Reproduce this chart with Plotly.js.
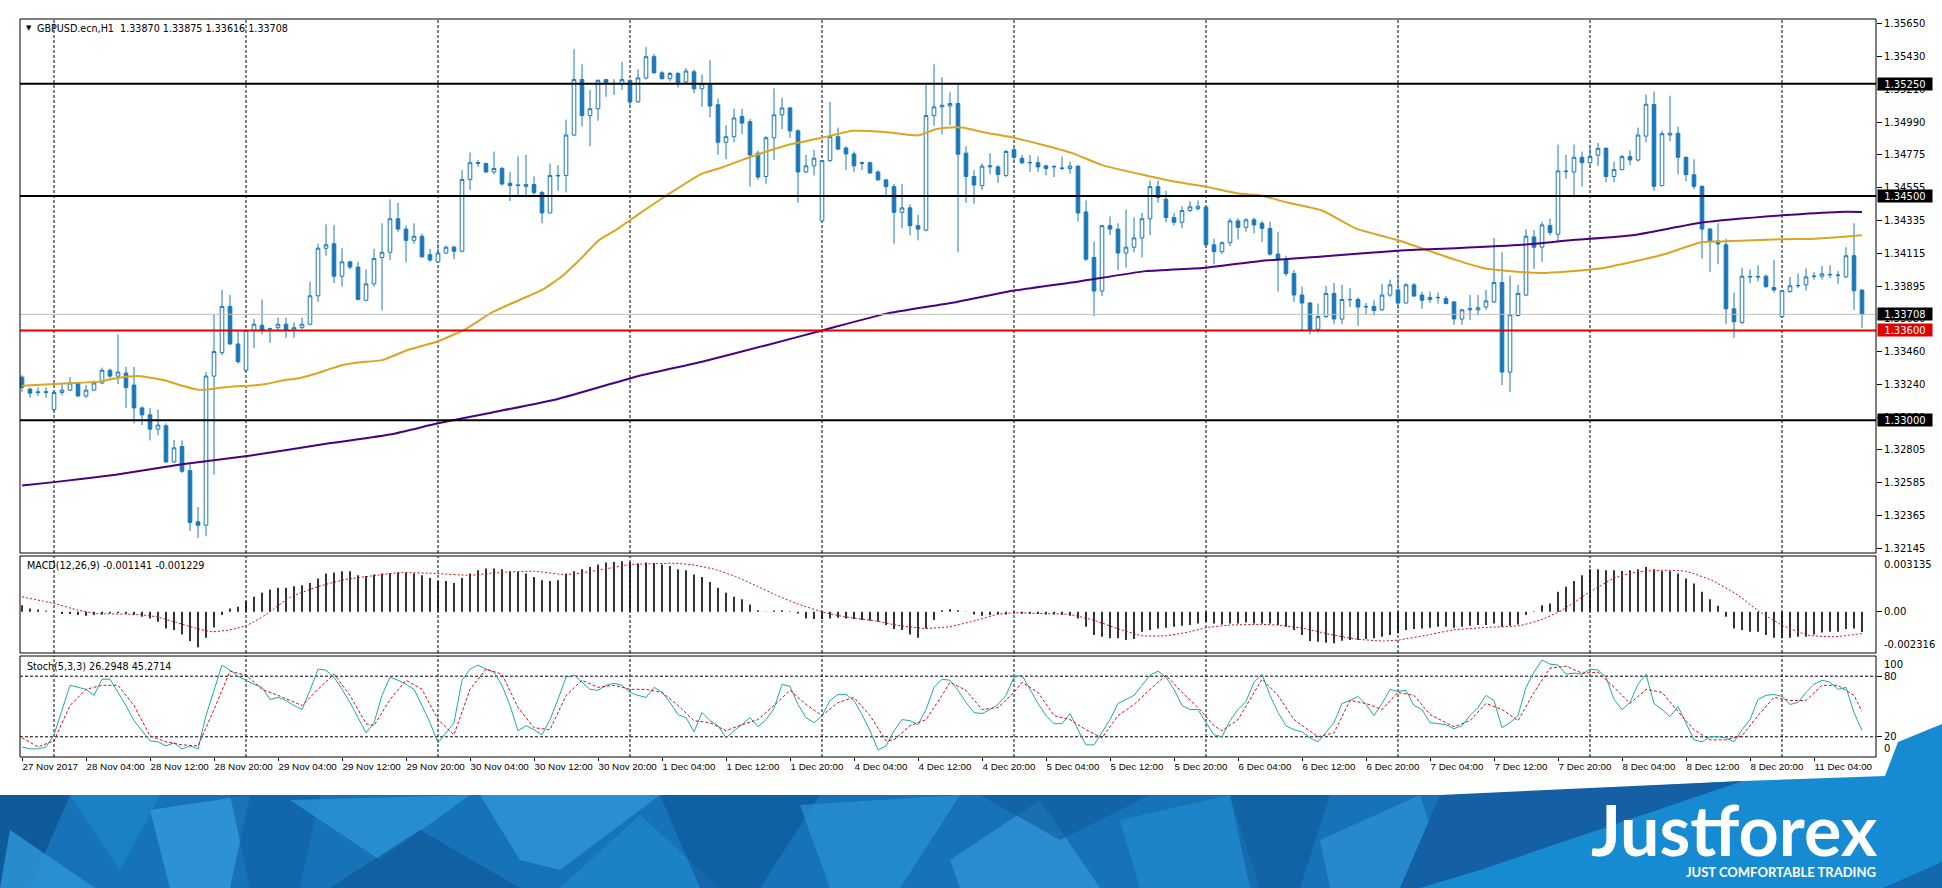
<!DOCTYPE html>
<html><head><meta charset="utf-8">
<script src="https://cdn.plot.ly/plotly-3.0.1.min.js"></script>
<style>html,body{margin:0;padding:0;background:#fff;overflow:hidden}#chart{width:1942px;height:888px}</style>
</head><body><div id="chart"></div>
<script>
// ---------------- DATA ----------------
const openP = [1.33288,1.33208,1.33190,1.33185,1.33071,1.33185,1.33201,1.33249,1.33162,1.33201,
1.33249,1.33334,1.33295,1.33315,1.33235,1.33082,1.33036,1.32940,1.32963,1.32721,
1.32824,1.32663,1.32321,1.32298,1.33295,1.33452,1.33761,1.33510,1.33334,1.33601,
1.33635,1.33610,1.33619,1.33642,1.33601,1.33619,1.33642,1.33832,1.34150,1.34180,
1.33963,1.34059,1.34024,1.33802,1.33912,1.34088,1.34123,1.34347,1.34278,1.34203,
1.34230,1.34107,1.34059,1.34118,1.34157,1.34130,1.34610,1.34717,1.34717,1.34660,
1.34683,1.34585,1.34569,1.34564,1.34576,1.34523,1.34386,1.34633,1.34637,1.34907,
1.35278,1.35037,1.35083,1.35278,1.35250,1.35250,1.35273,1.35129,1.35289,1.35431,
1.35323,1.35284,1.35319,1.35262,1.35330,1.35216,1.35250,1.35110,1.34859,1.34896,
1.35031,1.34996,1.34786,1.34630,1.34889,1.35042,1.35088,1.34935,1.34660,1.34701,
1.34333,1.34736,1.34896,1.34820,1.34781,1.34717,1.34722,1.34660,1.34607,1.34562,
1.34390,1.34420,1.34301,1.34271,1.35037,1.35095,1.35101,1.35118,1.34786,1.34630,
1.34569,1.34694,1.34694,1.34637,1.34809,1.34752,1.34724,1.34722,1.34701,1.34694,
1.34683,1.34683,1.34699,1.34393,1.34088,1.33864,1.34301,1.34278,1.34118,1.34157,
1.34219,1.34347,1.34562,1.34477,1.34356,1.34324,1.34402,1.34415,1.34425,1.34173,
1.34127,1.34187,1.34333,1.34290,1.34340,1.34317,1.34283,1.34111,1.34072,1.33981,
1.33837,1.33784,1.33608,1.33693,1.33848,1.33677,1.33805,1.33807,1.33757,1.33761,
1.33739,1.33837,1.33871,1.33784,1.33905,1.33837,1.33807,1.33819,1.33814,1.33791,
1.33677,1.33738,1.33738,1.33757,1.33791,1.33921,1.33322,1.33700,1.33837,1.34226,
1.34157,1.34301,1.34244,1.34662,1.34660,1.34758,1.34722,1.34772,1.34818,1.34630,
1.34676,1.34763,1.34740,1.34900,1.35111,1.34569,1.34907,1.34919,1.34758,1.34642,
1.34564,1.34278,1.34198,1.34173,1.33745,1.33654,1.33958,1.33958,1.33963,1.33887,
1.33693,1.33860,1.33899,1.33905,1.33961,1.33963,1.33972,1.33969,1.33958,1.34100,
1.33870];
const highP = [1.33300,1.33219,1.33219,1.33219,1.33196,1.33242,1.33288,1.33253,1.33235,1.33265,
1.33352,1.33345,1.33574,1.33357,1.33357,1.33093,1.33082,1.33071,1.32979,1.32869,
1.32865,1.32705,1.32419,1.33322,1.33711,1.33871,1.33837,1.33597,1.33605,1.33677,
1.33807,1.33619,1.33688,1.33688,1.33654,1.33688,1.33928,1.34180,1.34310,1.34306,
1.34150,1.34066,1.34059,1.34008,1.34146,1.34317,1.34477,1.34454,1.34301,1.34317,
1.34248,1.34146,1.34180,1.34168,1.34168,1.34672,1.34790,1.34740,1.34722,1.34797,
1.34694,1.34660,1.34763,1.34774,1.34630,1.34534,1.34717,1.34706,1.35010,1.35483,
1.35380,1.35209,1.35278,1.35280,1.35280,1.35397,1.35278,1.35346,1.35495,1.35449,
1.35335,1.35330,1.35330,1.35353,1.35346,1.35312,1.35408,1.35152,1.34973,1.35083,
1.35083,1.35015,1.34804,1.34900,1.35220,1.35156,1.35095,1.34946,1.34774,1.34809,
1.34740,1.35129,1.34957,1.34832,1.34797,1.34729,1.34729,1.34672,1.34614,1.34580,
1.34580,1.34443,1.34374,1.35243,1.35380,1.35294,1.35193,1.35255,1.34832,1.34672,
1.34717,1.34786,1.34706,1.34809,1.34820,1.34774,1.34774,1.34763,1.34706,1.34706,
1.34763,1.34729,1.34706,1.34470,1.34196,1.34306,1.34363,1.34317,1.34409,1.34356,
1.34386,1.34603,1.34603,1.34534,1.34386,1.34431,1.34466,1.34470,1.34431,1.34214,
1.34196,1.34351,1.34351,1.34351,1.34356,1.34333,1.34328,1.34260,1.34100,1.34004,
1.33894,1.33791,1.33780,1.33899,1.33917,1.33905,1.33883,1.33821,1.33784,1.33802,
1.33912,1.33940,1.33974,1.33917,1.33917,1.33860,1.33860,1.33853,1.33830,1.33798,
1.33745,1.33837,1.33837,1.33871,1.34219,1.34123,1.33967,1.33905,1.34278,1.34271,
1.34328,1.34347,1.34843,1.34774,1.34843,1.34797,1.34832,1.34854,1.34825,1.34729,
1.34774,1.34804,1.34957,1.35179,1.35198,1.34935,1.35170,1.34964,1.34763,1.34745,
1.34569,1.34287,1.34317,1.34214,1.33853,1.34020,1.34008,1.34036,1.33974,1.34072,
1.33871,1.33958,1.33981,1.34015,1.33990,1.34031,1.34036,1.33997,1.34157,1.34317,
1.33875];
const lowP = [1.33190,1.33150,1.33162,1.33150,1.33059,1.33167,1.33196,1.33158,1.33150,1.33196,
1.33242,1.33281,1.33242,1.33082,1.32979,1.32968,1.32865,1.32899,1.32716,1.32716,
1.32648,1.32259,1.32213,1.32224,1.32636,1.33436,1.33505,1.33379,1.33322,1.33482,
1.33574,1.33517,1.33597,1.33551,1.33551,1.33610,1.33635,1.33791,1.34100,1.33917,
1.33894,1.34008,1.33802,1.33796,1.33894,1.33734,1.34072,1.34260,1.34054,1.34180,
1.34084,1.34059,1.34054,1.34111,1.34077,1.34123,1.34539,1.34694,1.34653,1.34644,
1.34569,1.34466,1.34500,1.34489,1.34507,1.34317,1.34386,1.34534,1.34523,1.34900,
1.34964,1.34832,1.35003,1.35163,1.35175,1.35209,1.35101,1.35124,1.35278,1.35317,
1.35278,1.35266,1.35225,1.35255,1.35186,1.35095,1.35026,1.34774,1.34745,1.34859,
1.34912,1.34562,1.34607,1.34580,1.34740,1.34946,1.34889,1.34454,1.34653,1.34637,
1.34328,1.34729,1.34804,1.34672,1.34660,1.34672,1.34649,1.34603,1.34489,1.34180,
1.34283,1.34237,1.34203,1.34264,1.34969,1.34912,1.34973,1.34123,1.34454,1.34447,
1.34539,1.34644,1.34587,1.34626,1.34729,1.34713,1.34660,1.34660,1.34637,1.34626,
1.34672,1.34649,1.34328,1.34065,1.33695,1.33830,1.34237,1.34004,1.34020,1.34123,
1.34088,1.34237,1.34454,1.34324,1.34301,1.34283,1.34393,1.34402,1.34164,1.34043,
1.34111,1.34164,1.34210,1.34260,1.34248,1.34191,1.34100,1.33860,1.33963,1.33791,
1.33601,1.33574,1.33585,1.33684,1.33642,1.33642,1.33757,1.33631,1.33711,1.33700,
1.33729,1.33825,1.33745,1.33780,1.33825,1.33745,1.33784,1.33780,1.33775,1.33638,
1.33638,1.33670,1.33700,1.33738,1.33784,1.33235,1.33190,1.33693,1.33830,1.34013,
1.34059,1.34237,1.34196,1.34614,1.34489,1.34562,1.34694,1.34699,1.34591,1.34591,
1.34672,1.34706,1.34729,1.34859,1.34534,1.34564,1.34866,1.34644,1.34598,1.34546,
1.34081,1.33990,1.34043,1.33642,1.33551,1.33642,1.33917,1.33928,1.33883,1.33853,
1.33688,1.33853,1.33882,1.33866,1.33940,1.33940,1.33951,1.33912,1.33951,1.33738,
1.33616];
const closeP = [1.33219,1.33181,1.33185,1.33190,1.33185,1.33201,1.33249,1.33162,1.33201,1.33249,
1.33334,1.33295,1.33322,1.33219,1.33082,1.33036,1.32940,1.32968,1.32721,1.32815,
1.32659,1.32316,1.32298,1.33295,1.33459,1.33761,1.33510,1.33391,1.33601,1.33642,
1.33601,1.33612,1.33642,1.33601,1.33619,1.33642,1.33832,1.34150,1.34173,1.33963,
1.34059,1.34024,1.33807,1.33912,1.34081,1.34123,1.34347,1.34278,1.34203,1.34230,
1.34093,1.34072,1.34118,1.34157,1.34130,1.34610,1.34722,1.34722,1.34660,1.34683,
1.34580,1.34569,1.34572,1.34576,1.34523,1.34386,1.34637,1.34637,1.34907,1.35278,
1.35037,1.35083,1.35273,1.35255,1.35252,1.35278,1.35129,1.35289,1.35431,1.35323,
1.35284,1.35319,1.35250,1.35335,1.35216,1.35250,1.35101,1.34859,1.34896,1.35021,
1.34987,1.34774,1.34626,1.34889,1.35042,1.35088,1.34935,1.34660,1.34701,1.34752,
1.34736,1.34896,1.34813,1.34781,1.34701,1.34722,1.34653,1.34607,1.34562,1.34390,
1.34420,1.34301,1.34278,1.35037,1.35095,1.35106,1.35118,1.34779,1.34630,1.34573,
1.34699,1.34701,1.34644,1.34797,1.34758,1.34722,1.34722,1.34694,1.34683,1.34696,
1.34686,1.34699,1.34386,1.34077,1.33864,1.34301,1.34278,1.34118,1.34157,1.34219,
1.34347,1.34562,1.34489,1.34356,1.34324,1.34402,1.34427,1.34431,1.34173,1.34127,
1.34187,1.34333,1.34290,1.34340,1.34306,1.34283,1.34111,1.34072,1.33981,1.33837,
1.33784,1.33608,1.33693,1.33848,1.33677,1.33807,1.33807,1.33757,1.33760,1.33734,
1.33837,1.33905,1.33784,1.33905,1.33830,1.33802,1.33821,1.33821,1.33780,1.33677,
1.33738,1.33745,1.33752,1.33798,1.33921,1.33322,1.33706,1.33848,1.34230,1.34157,
1.34306,1.34255,1.34667,1.34665,1.34758,1.34722,1.34763,1.34818,1.34630,1.34676,
1.34763,1.34740,1.34907,1.35113,1.34564,1.34916,1.34919,1.34758,1.34642,1.34564,
1.34278,1.34196,1.34178,1.33745,1.33658,1.33963,1.33960,1.33960,1.33894,1.33871,
1.33866,1.33899,1.33901,1.33958,1.33963,1.33979,1.33974,1.33970,1.34100,1.33866,
1.33708];

// moving averages sampled along the drawn lines (bar index, price)
const maGoldBars = [0,4,9.6,11.7,14.6,17.9,20,22.1,24.2,26.3,28.4,30.5,32.5,34.6,36.7,38.6,40,42,45,48.3,52,55.4,58.8,62.1,65,67.5,70,72.1,74.2,77.3,80.8,85,87.1,91.2,95.4,100,103.8,107.9,112.1,114.2,116.1,117.5,120.5,124,128,131.3,135,140.5,144.6,148,152.1,154.8,158.3,162.5,166.7,172,175.8,179.2,182.5,185.8,190,193.2,197.9,201.3,205.4,210,212.9,220,224.2,230];
const maGoldVals = [1.33231,1.33242,1.33258,1.33281,1.33295,1.33265,1.33231,1.33203,1.33212,1.33226,1.33231,1.33242,1.33265,1.33281,1.33311,1.33345,1.33368,1.33386,1.33402,1.33471,1.33528,1.33608,1.33722,1.33802,1.33871,1.33963,1.34088,1.34203,1.34271,1.34386,1.34511,1.34649,1.34683,1.34763,1.34836,1.34889,1.34935,1.34928,1.34905,1.34946,1.34957,1.34957,1.34923,1.34889,1.34836,1.34786,1.34706,1.34637,1.34591,1.34562,1.34516,1.34503,1.34454,1.34402,1.34283,1.34203,1.34134,1.34072,1.34020,1.33997,1.33985,1.33995,1.34020,1.34059,1.34111,1.34191,1.34196,1.34210,1.34214,1.34237];
const maPurpleBars = [0,4,11.7,20,28.4,38.6,46.2,52,58.8,67.1,77.3,85,93.3,100,107.9,116.1,124,132.1,140.5,148,154.8,162.5,172,179.2,187.5,193.5,201.3,210,220,227.1,230];
const maPurpleVals = [1.32563,1.32586,1.32636,1.32705,1.32762,1.32847,1.32906,1.32979,1.33052,1.33144,1.33299,1.33391,1.33505,1.33600,1.33711,1.33784,1.33867,1.33928,1.33997,1.34020,1.34065,1.34095,1.34134,1.34150,1.34173,1.34203,1.34237,1.34322,1.34370,1.34393,1.34393];

// MACD(12,26,9): histogram per bar, signal sampled
const macdHist = [0.000373,0.000187,0.000131,0.000056,0.000019,-0.000131,-0.000131,-0.000187,-0.000224,-0.000187,
-0.000149,-0.000093,-0.000075,-0.000112,-0.000187,-0.000280,-0.000373,-0.000560,-0.000933,-0.001027,
-0.001270,-0.001643,-0.001998,-0.001456,-0.000877,-0.000187,0.000187,0.000280,0.000597,0.000840,
0.001064,0.001251,0.001344,0.001344,0.001437,0.001493,0.001624,0.001867,0.002147,0.002203,
0.002278,0.002278,0.002054,0.002016,0.002091,0.002147,0.002184,0.002203,0.002203,0.002147,
0.002054,0.001904,0.001736,0.001736,0.001624,0.001904,0.002147,0.002334,0.002427,0.002427,
0.002390,0.002278,0.002240,0.002147,0.001960,0.001773,0.001736,0.001773,0.002147,0.002278,
0.002390,0.002520,0.002651,0.002763,0.002800,0.002838,0.002800,0.002707,0.002763,0.002744,
0.002651,0.002576,0.002390,0.002334,0.002091,0.001960,0.001680,0.001344,0.001064,0.000840,
0.000709,0.000411,0.000093,0.000010,0.000075,0.000093,0.000037,-0.000093,-0.000373,-0.000411,
-0.000411,-0.000373,-0.000336,-0.000373,-0.000411,-0.000467,-0.000504,-0.000560,-0.000747,-0.000971,
-0.001027,-0.001270,-0.001456,-0.000933,-0.000467,0.000093,0.000149,0.000093,-0.000010,-0.000149,
-0.000224,-0.000187,-0.000149,-0.000149,-0.000093,-0.000112,-0.000112,-0.000131,-0.000149,-0.000149,
-0.000187,-0.000224,-0.000373,-0.000840,-0.001307,-0.001400,-0.001493,-0.001493,-0.001587,-0.001531,
-0.001120,-0.001027,-0.000933,-0.000896,-0.000840,-0.000784,-0.000747,-0.000653,-0.000560,-0.000653,
-0.000709,-0.000653,-0.000653,-0.000597,-0.000653,-0.000653,-0.000653,-0.000747,-0.000840,-0.001027,
-0.001307,-0.001643,-0.001680,-0.001736,-0.001773,-0.001624,-0.001587,-0.001587,-0.001531,-0.001493,
-0.001400,-0.001307,-0.001213,-0.001027,-0.000971,-0.000933,-0.000896,-0.000840,-0.000840,-0.000896,
-0.000840,-0.000784,-0.000747,-0.000747,-0.000653,-0.000840,-0.000784,-0.000709,-0.000187,0.000037,
0.000373,0.000467,0.001120,0.001400,0.001736,0.002054,0.002390,0.002390,0.002334,0.002334,
0.002296,0.002334,0.002390,0.002520,0.002390,0.002278,0.002278,0.002147,0.001867,0.001587,
0.001120,0.000709,0.000336,-0.000280,-0.000933,-0.001027,-0.001120,-0.001120,-0.001307,-0.001456,
-0.001493,-0.001456,-0.001400,-0.001400,-0.001270,-0.001157,-0.001120,-0.001120,-0.000971,-0.000933,
-0.001141];
const macdSigBars = [0,4,7,9.3,14.3,16.8,19.3,21.8,23.8,25.8,28,30.4,33.4,36.9,40.4,44.4,47.4,52,56,59.5,64,68,72,76,79.2,81.7,84.2,86.7,89.3,91.8,94.3,96.8,100,102.8,106.8,109.3,112.9,115.9,119.4,121.9,124,126.9,130.9,133.9,136.9,140,143,146,148,151,155,156.9,160.2,163.5,166.8,170.1,172,176.1,178.8,183.2,187.1,189.8,192.5,196,199.1,201.9,205.1,207.9,211.2,214.5,217.2,220,223.2,226.5,230];
const macdSigVals = [0.000840,0.000467,0.000093,-0.000093,-0.000149,-0.000280,-0.000597,-0.000933,-0.001120,-0.001027,-0.000784,-0.000187,0.000784,0.001400,0.001811,0.002054,0.002203,0.002147,0.002054,0.002203,0.002278,0.002091,0.002334,0.002651,0.002707,0.002726,0.002614,0.002371,0.001960,0.001456,0.000933,0.000467,0.000000,-0.000280,-0.000523,-0.000747,-0.000933,-0.000840,-0.000467,-0.000149,-0.000056,-0.000093,-0.000149,-0.000467,-0.000933,-0.001344,-0.001344,-0.001120,-0.000896,-0.000747,-0.000709,-0.000747,-0.000933,-0.001270,-0.001531,-0.001643,-0.001587,-0.001270,-0.001027,-0.000877,-0.000784,-0.000467,0.000093,0.001120,0.001904,0.002240,0.002334,0.002278,0.001773,0.000933,0.000000,-0.000747,-0.001307,-0.001400,-0.001229];

// Stochastic(5,3,3): main per bar, signal sampled
const stochMain = [10,8,8,10,22,47,71,69,67,61,
77,77,64,51,36,26,16,15,11,14,
8,11,8,41,67,91,86,80,76,72,
69,57,59,56,51,47,66,87,86,79,
67,54,39,24,34,61,79,76,72,67,
51,34,14,24,34,76,87,91,87,84,
71,51,26,31,27,22,37,57,79,81,
74,67,66,71,73,71,64,61,59,69,
64,54,42,39,25,44,36,31,19,26,
32,39,30,37,48,72,70,52,39,34,
41,56,62,62,56,42,26,7,11,26,
37,36,32,47,69,77,76,66,54,44,
43,47,52,61,79,81,67,53,41,33,
33,43,27,12,12,24,37,53,57,61,
71,81,85,79,67,51,47,47,34,22,
20,36,47,55,74,82,61,44,31,27,
25,19,15,24,34,53,56,60,52,41,
53,67,65,66,51,47,34,33,32,28,
31,41,49,61,56,29,34,41,69,84,
96,92,91,82,83,82,87,86,79,57,
47,54,72,82,53,47,40,50,34,17,
15,20,20,19,15,27,37,57,61,62,
60,52,54,64,72,76,74,67,69,44,
26.29];
const stochSigBars = [0,2,4,6,8,10,12,14,16,18,20,22,24,26,28,30,32,35,37,39,41,43,44,46,48,50,52,54,56,58,60,62,64,66,68,70,72,74,76,78,80,82,84,86,88,90,92,94,96,98,100,102,104,106,108,109,111,113,115,116,118,120,122,124,125,127,129,131,133,135,137,139,141,143,145,147,149,150,152,154,155,157,159,162,164,166,168,170,172,174,176,179,181,183,185,187,189,191,193,195,197,199,201,203,205,207,209,211,213,215,217,219,221,223,225,227,229,230];
const stochSigVals = [19,10,16,51,67,71,71,51,21,15,12,11,47,85,81,67,61,51,67,82,61,33,31,57,76,67,37,22,67,87,82,49,29,27,61,76,69,71,67,67,64,51,36,34,26,32,37,51,66,52,41,54,59,41,16,17,31,37,61,74,66,47,49,64,74,64,41,37,27,19,41,52,67,81,64,49,31,26,37,64,77,61,37,20,24,56,53,47,64,61,42,30,36,53,47,36,64,88,90,83,84,69,53,67,64,45,27,17,17,21,41,59,56,56,71,71,61,45.27];

// axes / labels
const timeLabelBars = [0,8,16,24,32,40,48,56,64,72,80,88,96,104,112,120,128,136,144,152,160,168,176,184,192,200,208,216,224];
const timeLabels = ["27 Nov 2017","28 Nov 04:00","28 Nov 12:00","28 Nov 20:00","29 Nov 04:00","29 Nov 12:00","29 Nov 20:00","30 Nov 04:00","30 Nov 12:00","30 Nov 20:00","1 Dec 04:00","1 Dec 12:00","1 Dec 20:00","4 Dec 04:00","4 Dec 12:00","4 Dec 20:00","5 Dec 04:00","5 Dec 12:00","5 Dec 20:00","6 Dec 04:00","6 Dec 12:00","6 Dec 20:00","7 Dec 04:00","7 Dec 12:00","7 Dec 20:00","8 Dec 04:00","8 Dec 12:00","8 Dec 20:00","11 Dec 04:00"];
const daySeparatorBars = [4,28,52,76,100,124,148,172,196,220];
const priceTickVals = [1.35650,1.35430,1.35210,1.34990,1.34775,1.34555,1.34335,1.34115,1.33895,1.33680,1.33460,1.33240,1.33020,1.32805,1.32585,1.32365,1.32145];
const priceTickText = ["1.35650","1.35430","1.35210","1.34990","1.34775","1.34555","1.34335","1.34115","1.33895","1.33680","1.33460","1.33240","1.33020","1.32805","1.32585","1.32365","1.32145"];
const levelPrices = [1.35250,1.34500,1.33000,1.33600,1.33708];
const levelText = ["1.35250","1.34500","1.33000","1.33600","1.33708"];
const macdAxisVals = [0.003135,0,-0.002316];
const macdAxisText = ["0.003135","0.00","-0.002316"];
const stochLevels = [80,20];
const headerText = "GBPUSD.ecn,H1  1.33870 1.33875 1.33616 1.33708";
const macdText = "MACD(12,26,9) -0.001141 -0.001229";
const stochText = "Stoch(5,3,3) 26.2948 45.2714";

// ---------------- LAYOUT ----------------
const W = 1942, H = 888;
const px = v => v / W, py = v => 1 - v / H;
const X0 = 20, X1 = 1876;
const MAIN = [19, 553], MACD = [556, 653], STO = [656, 757];
const BLUE = '#1b78b8';
const bars = openP.map((_, i) => i);
const FONT = 'DejaVu Sans';
const TFONT = 'Liberation Sans';

const traces = [
  {type:'candlestick', x:bars, open:openP, high:highP, low:lowP, close:closeP, xaxis:'x', yaxis:'y',
   increasing:{line:{color:BLUE,width:1}, fillcolor:'#ffffff'},
   decreasing:{line:{color:BLUE,width:1}, fillcolor:BLUE},
   whiskerwidth:0, hoverinfo:'skip', showlegend:false},
  {type:'scatter', mode:'lines', x:maGoldBars, y:maGoldVals, xaxis:'x', yaxis:'y',
   line:{color:'#DAA520', width:2, shape:'spline', smoothing:0.5}, hoverinfo:'skip'},
  {type:'scatter', mode:'lines', x:maPurpleBars, y:maPurpleVals, xaxis:'x', yaxis:'y',
   line:{color:'#4B0082', width:2, shape:'spline', smoothing:0.5}, hoverinfo:'skip'},
  {type:'bar', x:bars, y:macdHist, xaxis:'x', yaxis:'y2', width:0.2,
   marker:{color:'#000', line:{width:0}}, hoverinfo:'skip'},
  {type:'scatter', mode:'lines', x:macdSigBars, y:macdSigVals, xaxis:'x', yaxis:'y2',
   line:{color:'#d01010', width:1, dash:'2px,2px', shape:'spline', smoothing:0.5}, hoverinfo:'skip'},
  {type:'scatter', mode:'lines', x:bars, y:stochMain, xaxis:'x', yaxis:'y3',
   line:{color:'#20aaa6', width:1}, hoverinfo:'skip'},
  {type:'scatter', mode:'lines', x:stochSigBars, y:stochSigVals, xaxis:'x', yaxis:'y3',
   line:{color:'#d01010', width:1, dash:'3px,2px'}, hoverinfo:'skip'}
];

const shapes = [];
// day separators (dashed grid) in every panel
daySeparatorBars.forEach(d => [MAIN, MACD, STO].forEach(([t, b]) => shapes.push({
  type:'line', xref:'x', yref:'paper', x0:d, x1:d, y0:py(b), y1:py(t),
  line:{color:'#000', width:1, dash:'3px,2px'}, layer:'below'})));
// stochastic 80 / 20 levels
stochLevels.forEach(v => shapes.push({type:'line', xref:'paper', yref:'y3', x0:px(X0), x1:px(X1), y0:v, y1:v,
  line:{color:'#000', width:1, dash:'3px,2px'}, layer:'below'}));
// horizontal price levels
levelPrices.forEach((v, i) => {
  const red = i === 3, bid = i === 4;
  shapes.push({type:'line', xref:'paper', yref:'y', x0:px(X0), x1:px(X1), y0:v, y1:v,
    line:{color: red ? '#e00000' : (bid ? '#c0c0c0' : '#000'), width: bid ? 1 : 2}, layer:'above'});
});
// panel frames
[MAIN, MACD, STO].forEach(([t, b]) => shapes.push({type:'rect', xref:'paper', yref:'paper',
  x0:px(X0), x1:px(X1), y0:py(b), y1:py(t), line:{color:'#000', width:1}, fillcolor:'rgba(0,0,0,0)', layer:'above'}));

// ---- banner decoration ----
function poly(pts, color, op) {
  const d = pts.map((p, i) => (i ? 'L' : 'M') + px(p[0]).toFixed(5) + ',' + py(p[1]).toFixed(5)).join(' ') + ' Z';
  shapes.push({type:'path', xref:'paper', yref:'paper', path:d, fillcolor:color, opacity:op, line:{width:0}, layer:'above'});
}
poly([[0,795],[1470,795],[1470,888],[0,888]], '#1673b8', 1);
poly([[0,795],[70,795],[30,888],[0,888]], '#0e5896', 0.9);
poly([[10,830],[95,888],[0,888]], '#2d97d8', 0.8);
poly([[70,795],[160,795],[120,870]], '#1c84c8', 0.8);
poly([[150,810],[250,795],[230,888],[170,888]], '#36a0df', 0.7);
poly([[230,795],[320,795],[300,888],[250,888]], '#0f5fa0', 0.6);
poly([[290,800],[470,795],[380,860]], '#2b95d8', 0.75);
poly([[330,888],[420,830],[520,888]], '#0d5493', 0.6);
poly([[480,795],[660,795],[560,870],[520,860]], '#3aa5e3', 0.55);
poly([[560,888],[640,815],[720,888]], '#1e86ca', 0.8);
poly([[660,795],[820,795],[760,888],[700,888]], '#0c5291', 0.55);
poly([[800,805],[960,795],[900,888],[830,888]], '#2b95d8', 0.65);
poly([[950,860],[1040,800],[1100,888],[960,888]], '#3aa5e3', 0.5);
poly([[980,795],[1150,795],[1060,840]], '#0e5896', 0.55);
poly([[1120,820],[1230,795],[1260,888],[1140,888]], '#2590d4', 0.6);
poly([[1230,795],[1330,795],[1300,888],[1250,888]], '#0d5493', 0.5);
poly([[1320,840],[1420,795],[1450,888],[1330,888]], '#33a0de', 0.5);
poly([[1420,888],[1470,795],[1743,781],[1885,776],[1898,742],[1942,724],[1942,888]], '#178bd1', 1);
poly([[1440,795],[1743,781],[1480,870],[1420,888],[1400,888]], '#1560a4', 1);
poly([[1883,888],[1942,862],[1942,888]], '#1269ae', 1);

// ---------------- ANNOTATIONS ----------------
const ann = [];
const txt = (x, y, text, opts) => Object.assign({xref:'paper', yref:'paper', x:x, y:y, text:text, showarrow:false,
  xanchor:'left', yanchor:'middle', font:{family:FONT, size:10, color:'#000'}}, opts || {});
ann.push(txt(px(24), py(28), '▼', {font:{family:FONT, size:7, color:'#000'}}));
ann.push(txt(px(35), py(28), headerText, {font:{family:FONT, size:9.6, color:'#000'}}));
ann.push(txt(px(25), py(565), macdText, {font:{family:FONT, size:9.6, color:'#000'}}));
ann.push(txt(px(25), py(666), stochText, {font:{family:FONT, size:9.6, color:'#000'}}));
// MACD axis labels
ann.push(txt(px(1882), py(MACD[0] + 1), macdAxisText[0], {yanchor:'top'}));
ann.push(txt(px(1882), macdAxisVals[1], macdAxisText[1], {yref:'y2'}));
ann.push(txt(px(1882), py(MACD[1] - 1), macdAxisText[2], {yanchor:'bottom'}));
// stochastic axis labels
ann.push(txt(px(1882), py(STO[0] + 1), '100', {yanchor:'top'}));
ann.push(txt(px(1882), 80, '80', {yref:'y3'}));
ann.push(txt(px(1882), 20, '20', {yref:'y3'}));
ann.push(txt(px(1882), py(STO[1] - 1), '0', {yanchor:'bottom'}));
// level price boxes
levelPrices.forEach((v, i) => ann.push({xref:'paper', yref:'y', x:px(X1 + 1), y:v, text:levelText[i], showarrow:false,
  xanchor:'left', yanchor:'middle', width:54, height:12, align:'center', borderpad:0,
  bgcolor: i === 3 ? '#e00000' : '#000', font:{family:FONT, size:10, color:'#fff'}}));
// banner logo
ann.push(txt(px(1880), py(829), 'Justforex', {xanchor:'right', height:62, font:{family:'Lato', size:70, color:'#fff', weight:700}}));
ann.push(txt(px(1878), py(872), 'JUST COMFORTABLE TRADING', {xanchor:'right', font:{family:'Lato', size:13, color:'#fff', weight:700}}));

const layout = {
  width:W, height:H, margin:{l:0, r:0, t:0, b:0},
  paper_bgcolor:'#ffffff', plot_bgcolor:'#ffffff', showlegend:false,
  font:{family:FONT, size:10, color:'#000'},
  boxgap:0.35,
  xaxis:{type:'linear', domain:[px(X0), px(X1)], range:[-0.25, 231.75], anchor:'y3',
    rangeslider:{visible:false}, showgrid:false, zeroline:false, showline:false,
    tickmode:'array', tickvals:timeLabelBars, ticktext:timeLabels, ticks:'outside', ticklen:3,
    tickangle:0, tickcolor:'#000', ticklabelposition:'outside right', tickfont:{family:TFONT, size:9.8, color:'#000'}},
  yaxis:{domain:[py(MAIN[1]), py(MAIN[0])], range:[1.32112, 1.35683], side:'right', anchor:'x',
    tickmode:'array', tickvals:priceTickVals, ticktext:priceTickText, ticks:'outside', ticklen:5,
    tickcolor:'#000', showgrid:false, zeroline:false, showline:false, tickfont:{family:FONT, size:10, color:'#000'}},
  yaxis2:{domain:[py(MACD[1]), py(MACD[0])], range:[-0.002316, 0.003135], side:'right', anchor:'x',
    tickmode:'array', tickvals:[0], ticks:'outside', ticklen:5, tickcolor:'#000', showticklabels:false,
    showgrid:false, zeroline:false, showline:false},
  yaxis3:{domain:[py(STO[1]), py(STO[0])], range:[0, 100], side:'right', anchor:'x',
    tickmode:'array', tickvals:stochLevels, ticks:'outside', ticklen:5, tickcolor:'#000', showticklabels:false,
    showgrid:false, zeroline:false, showline:false},
  shapes:shapes, annotations:ann
};
Plotly.newPlot('chart', traces, layout, {staticPlot:true, displayModeBar:false});
</script>
</body></html>
